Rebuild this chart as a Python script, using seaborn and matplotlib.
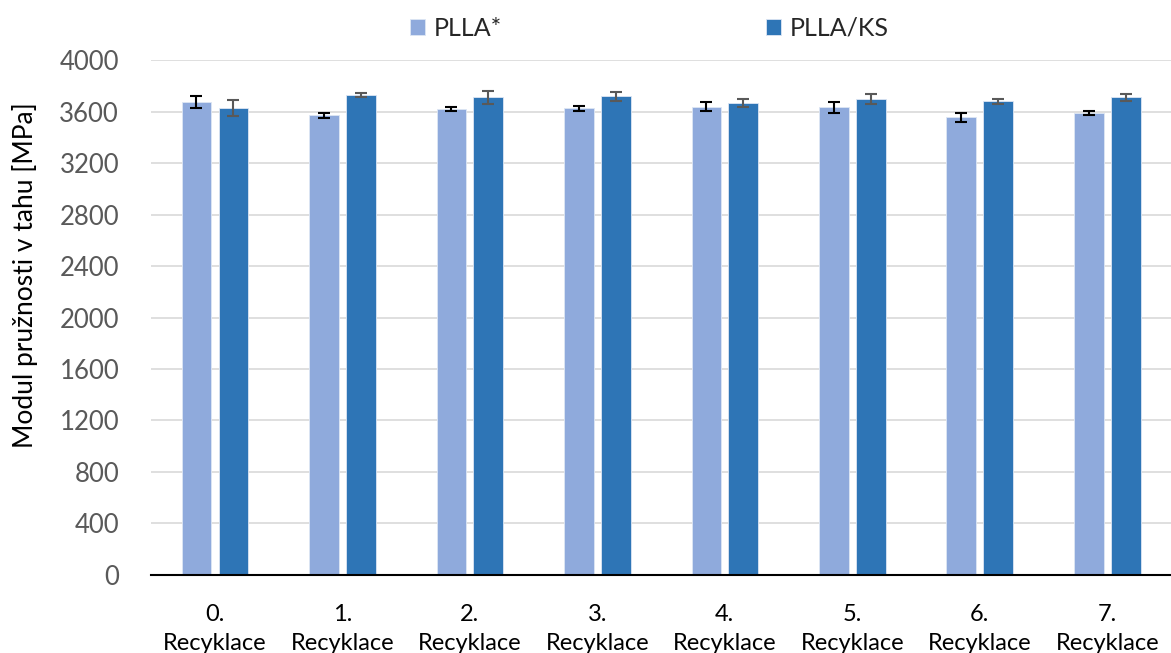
import matplotlib.pyplot as plt
import pandas as pd
import seaborn as sns

categories = ["0.\nRecyklace", "1.\nRecyklace", "2.\nRecyklace", "3.\nRecyklace",
              "4.\nRecyklace", "5.\nRecyklace", "6.\nRecyklace", "7.\nRecyklace"]
series = ["PLLA*", "PLLA/KS"]
plla = [3675, 3570, 3617, 3625, 3638, 3632, 3555, 3588]
plla_err = [44, 20, 15, 20, 36, 42, 36, 15]
plla_ks = [3625, 3726, 3710, 3718, 3668, 3695, 3679, 3710]
plla_ks_err = [63, 15, 50, 36, 30, 39, 18, 27]

colors = ["#8FAADC", "#2E75B6"]
err_colors = ["#000000", "#595959"]

df = pd.DataFrame({
    "cat": categories * 2,
    "series": [series[0]] * 8 + [series[1]] * 8,
    "value": plla + plla_ks,
})

sns.set_style("white")
plt.rcParams["font.family"] = ["Lato", "DejaVu Sans"]

fig = plt.figure(figsize=(11.71, 6.53), dpi=100)
ax = fig.add_axes([0.129, 0.1195, 0.871, 0.7885])

sns.barplot(data=df, x="cat", y="value", hue="series", palette=colors,
            saturation=1, width=0.58, gap=0.2, errorbar=None, ax=ax, zorder=2,
            edgecolor="#DDE6F4", linewidth=0.6)

# error bars from the bar positions
for i, (vals, errs) in enumerate([(plla, plla_err), (plla_ks, plla_ks_err)]):
    cont = ax.containers[i]
    xs = [p.get_x() + p.get_width() / 2 for p in cont.patches]
    ax.errorbar(xs, vals, yerr=errs, fmt="none", ecolor=err_colors[i],
                elinewidth=1.5, capsize=4.3, capthick=1.5, zorder=3)

ax.set_ylim(0, 4000)
ax.set_yticks(range(0, 4001, 400))
ax.set_xlim(-0.5, 7.5)
ax.yaxis.grid(True, color="#D9D9D9", linewidth=1.2, zorder=0)
ax.set_axisbelow(True)
for s in ["top", "right", "left"]:
    ax.spines[s].set_visible(False)
ax.spines["bottom"].set_color("#000000")
ax.spines["bottom"].set_linewidth(1.5)
ax.tick_params(axis="y", labelsize=18.5, colors="#595959", length=0, pad=23)
ax.tick_params(axis="x", labelsize=17, colors="#000000", length=0, pad=21)
for lbl in ax.get_xticklabels():
    lbl.set_linespacing(1.45)
ax.set_xlabel("")
ax.set_ylabel("Modul pružnosti v tahu [MPa]", fontsize=19, color="#000000")
ax.yaxis.set_label_coords(38 / 1171, 1 - 275 / 653, transform=fig.transFigure)

ax.legend(loc="center left", bbox_to_anchor=(0.342, 0.957), bbox_transform=fig.transFigure,
          ncol=2, frameon=False, fontsize=18, handlelength=0.6, handleheight=0.6,
          handletextpad=0.35, columnspacing=10.55, borderaxespad=0)

fig.savefig("out.png", dpi=100)
